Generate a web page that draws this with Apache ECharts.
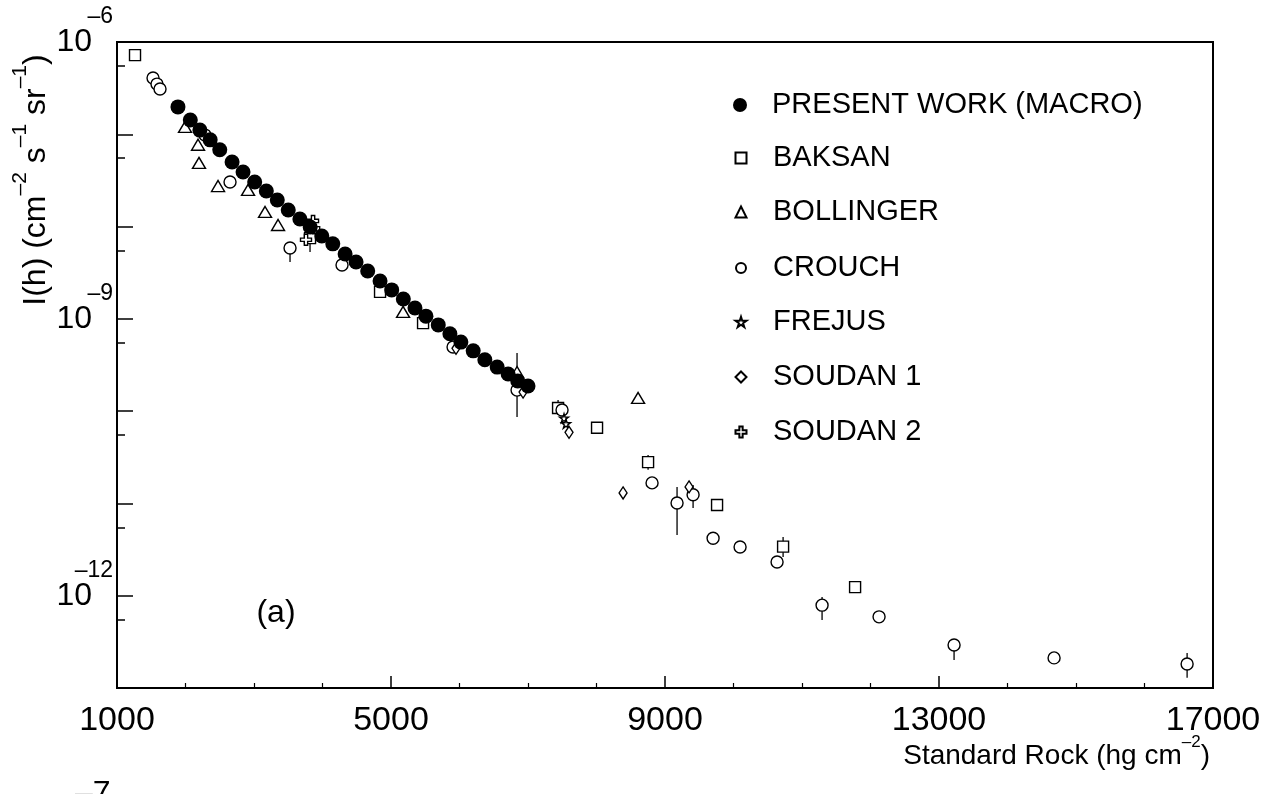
<!DOCTYPE html>
<html>
<head>
<meta charset="utf-8">
<script src="https://cdn.jsdelivr.net/npm/echarts@6/dist/echarts.min.js"></script>
<style>
  html, body { margin: 0; padding: 0; background: #fff; }
  #chart { width: 1268px; height: 794px; }
</style>
</head>
<body>
<div id="chart"></div>
<script>
// depth in hg cm^-2, intensity in cm^-2 s^-1 sr^-1
const macroDepth = [1890, 2070, 2210, 2360, 2500, 2680, 2840, 3010, 3180, 3340, 3500, 3670, 3820, 3990, 4150, 4330,
  4490, 4660, 4840, 5010, 5180, 5350, 5510, 5690, 5860, 6020, 6200, 6370, 6550, 6710, 6850, 7000];
const macroFlux = [1.98e-7, 1.43e-7, 1.11e-7, 8.7e-8, 6.8e-8, 5.0e-8, 3.9e-8, 3.04e-8, 2.43e-8, 1.94e-8, 1.51e-8, 1.21e-8,
  9.9e-9, 7.9e-9, 6.5e-9, 5.05e-9, 4.13e-9, 3.3e-9, 2.57e-9, 2.06e-9, 1.64e-9, 1.31e-9, 1.07e-9, 8.6e-10, 6.9e-10,
  5.6e-10, 4.5e-10, 3.6e-10, 3.0e-10, 2.53e-10, 2.12e-10, 1.87e-10];

const baksanDepth = [1263, 3818, 4840, 5468, 7439, 8008, 8753, 9760, 10724, 11775];
const baksanFlux = [7.2e-7, 7.5e-9, 1.96e-9, 9.0e-10, 1.08e-10, 6.6e-11, 2.8e-11, 9.6e-12, 3.4e-12, 1.24e-12];

const bollingerDepth = [1993, 2183, 2197, 2475, 2913, 3161, 3351, 5176, 6840, 8607];
const bollingerFlux = [1.2e-7, 7.7e-8, 4.9e-8, 2.75e-8, 2.5e-8, 1.44e-8, 1.04e-8, 1.19e-9, 2.65e-10, 1.39e-10];

const crouchDepth = [1526, 1584, 1628, 2285, 2650, 3526, 4285, 5906, 6840, 7497, 8811, 9176, 9410, 9702, 10096,
  10636, 11293, 12125, 13220, 14680, 16622];
const crouchFlux = [4.07e-7, 3.5e-7, 3.1e-7, 9.8e-8, 3.04e-8, 5.86e-9, 3.84e-9, 4.95e-10, 1.69e-10, 1.03e-10, 1.67e-11,
  1.01e-11, 1.24e-11, 4.2e-12, 3.37e-12, 2.32e-12, 7.9e-13, 5.9e-13, 2.92e-13, 2.12e-13, 1.82e-13];

const frejusDepth = [7526, 7555];
const frejusFlux = [8.4e-11, 7.3e-11];

const soudan1Depth = [5949, 6928, 7599, 8388, 9351];
const soudan1Flux = [4.8e-10, 1.61e-10, 5.9e-11, 1.3e-11, 1.51e-11];

const soudan2Depth = [3862, 3935, 3759];
const soudan2Flux = [1.15e-8, 8.7e-9, 7.2e-9];

// vertical error bars: depth, low, high
const errDepth = [6840, 3526, 3818, 9176, 9410, 10724, 11293, 13220, 16622, 8753, 7439];
const errLow = [8.65e-11, 4.13e-9, 5.31e-9, 4.55e-12, 8.93e-12, 2.63e-12, 5.46e-13, 2.01e-13, 1.29e-13, 2.31e-11, 9.1e-11];
const errHigh = [4.27e-10, 5.86e-9, 7.52e-9, 1.51e-11, 1.58e-11, 4.33e-12, 9.7e-13, 2.92e-13, 2.4e-13, 3.35e-11, 1.32e-10];

const seriesNames = ['PRESENT WORK (MACRO)', 'BAKSAN', 'BOLLINGER', 'CROUCH', 'FREJUS', 'SOUDAN 1', 'SOUDAN 2'];
const xTickLabels = [1000, 5000, 9000, 13000, 17000];
const yLabelExps = [-6, -9, -12];

const FONT = '"Liberation Sans", Arial, sans-serif';
const STAR = 'path://M50,0 L61,35 L98,35 L68,57 L79,91 L50,70 L21,91 L32,57 L2,35 L39,35 Z';
const CROSS = 'path://M35,0 H65 V35 H100 V65 H65 V100 H35 V65 H0 V35 H35 Z';

const zip = (a, b) => a.map((v, i) => [v, b[i]]);
const open = { color: '#fff', borderColor: '#000', borderWidth: 1.4, opacity: 1 };

const chart = echarts.init(document.getElementById('chart'));

// legend rows: centre y and icon size
const legendY = [105, 158, 212, 268, 322, 377, 432];
const legendIcon = [14, 11, 11, 10, 11, 11, 11];

const option = {
  animation: false,
  backgroundColor: '#fff',
  grid: { left: 117, top: 42, width: 1096, height: 646, show: true, borderColor: '#000', borderWidth: 2 },
  legend: seriesNames.map((name, i) => {
    const s = legendIcon[i];
    const left = 740 - s / 2;
    return {
      data: [name],
      left: left,
      top: legendY[i] - 15,
      padding: 0,
      itemWidth: s,
      itemHeight: s,
      symbolKeepAspect: true,
      selectedMode: false,
      formatter: n => '{g|}' + n,
      textStyle: {
        fontFamily: FONT, fontSize: 29, color: '#000', lineHeight: 30,
        rich: { g: { width: 772 - (left + s + 5) } }
      }
    };
  }),
  xAxis: {
    type: 'value',
    min: 1000,
    max: 17000,
    interval: 4000,
    axisLine: { lineStyle: { color: '#000', width: 2 } },
    axisTick: { inside: true, length: 12, lineStyle: { color: '#000', width: 1.5 } },
    minorTick: { show: true, splitNumber: 4, length: 5, lineStyle: { color: '#000', width: 1.2 } },
    splitLine: { show: false },
    axisLabel: {
      margin: 16,
      color: '#000',
      fontFamily: FONT,
      fontSize: 34,
      formatter: v => (xTickLabels.indexOf(v) >= 0 ? String(v) : '')
    }
  },
  yAxis: {
    type: 'log',
    logBase: 10,
    min: 1e-13,
    max: 1e-6,
    splitNumber: 7,
    axisLine: { lineStyle: { color: '#000', width: 2 } },
    axisTick: { inside: true, length: 16, lineStyle: { color: '#000', width: 1.5 } },
    minorTick: { show: true, splitNumber: 2, length: 8, lineStyle: { color: '#000', width: 1.5 } },
    splitLine: { show: false },
    axisLabel: {
      margin: 4,
      color: '#000',
      fontFamily: FONT,
      formatter: v => {
        const e = Math.round(Math.log10(v));
        return yLabelExps.indexOf(e) >= 0 ? '{e|–' + (-e) + '}\n{b|10}\n{s| }' : '';
      },
      rich: {
        e: { fontFamily: FONT, fontSize: 23, lineHeight: 20, color: '#000' },
        b: { fontFamily: FONT, fontSize: 32, lineHeight: 30, color: '#000', padding: [0, 21, 0, 0] },
        s: { fontSize: 10, lineHeight: 20 }
      }
    }
  },
  graphic: [
    {
      type: 'text', x: 31, y: 180, rotation: Math.PI / 2,
      style: {
        text: '{b|I(h) (cm}{s|–2}{b| s}{s|–1}{b| sr}{s|–1}{b|)}',
        align: 'center', verticalAlign: 'middle',
        rich: {
          b: { fontFamily: FONT, fontSize: 32, lineHeight: 42, verticalAlign: 'bottom', fill: '#000' },
          s: { fontFamily: FONT, fontSize: 21, lineHeight: 42, verticalAlign: 'top', fill: '#000' }
        }
      }
    },
    {
      type: 'text', x: 1210, y: 752,
      style: {
        text: '{b|Standard Rock (hg cm}{s|–2}{b|)}',
        align: 'right', verticalAlign: 'middle',
        rich: {
          b: { fontFamily: FONT, fontSize: 28, lineHeight: 36, verticalAlign: 'bottom', fill: '#000' },
          s: { fontFamily: FONT, fontSize: 17, lineHeight: 36, verticalAlign: 'top', fill: '#000' }
        }
      }
    },
    {
      type: 'text', x: 276, y: 613,
      style: { text: '(a)', font: '32px ' + FONT, fill: '#000', align: 'center', verticalAlign: 'middle' }
    },
    {
      type: 'text', x: 75, y: 778,
      style: { text: '–7', font: '32px ' + FONT, fill: '#000', align: 'left', verticalAlign: 'top' }
    }
  ],
  series: [
    {
      name: 'errors',
      type: 'custom',
      z: 1,
      data: errDepth.map((d, i) => [d, errLow[i], errHigh[i]]),
      encode: { x: 0, y: [1, 2] },
      renderItem: (params, api) => {
        const p1 = api.coord([api.value(0), api.value(1)]);
        const p2 = api.coord([api.value(0), api.value(2)]);
        return {
          type: 'line',
          shape: { x1: p1[0], y1: p1[1], x2: p2[0], y2: p2[1] },
          style: { stroke: '#000', lineWidth: 1.3 }
        };
      }
    },
    { name: 'BAKSAN', type: 'scatter', z: 2, symbol: 'rect', symbolSize: 11, itemStyle: open, data: zip(baksanDepth, baksanFlux) },
    { name: 'BOLLINGER', type: 'scatter', z: 2, symbol: 'triangle', symbolSize: [13, 11], itemStyle: open, data: zip(bollingerDepth, bollingerFlux) },
    { name: 'CROUCH', type: 'scatter', z: 2, symbol: 'circle', symbolSize: 12, itemStyle: open, data: zip(crouchDepth, crouchFlux) },
    { name: 'FREJUS', type: 'scatter', z: 2, symbol: STAR, symbolSize: 9, itemStyle: open, data: zip(frejusDepth, frejusFlux) },
    { name: 'SOUDAN 1', type: 'scatter', z: 2, symbol: 'diamond', symbolSize: [8, 12], itemStyle: open, data: zip(soudan1Depth, soudan1Flux) },
    { name: 'SOUDAN 2', type: 'scatter', z: 2, symbol: CROSS, symbolSize: 11, itemStyle: open, data: zip(soudan2Depth, soudan2Flux) },
    { name: 'PRESENT WORK (MACRO)', type: 'scatter', z: 3, symbol: 'circle', symbolSize: 15, itemStyle: { color: '#000', opacity: 1 }, data: zip(macroDepth, macroFlux) }
  ]
};

chart.setOption(option);
window.addEventListener('resize', () => chart.resize());
</script>
</body>
</html>
